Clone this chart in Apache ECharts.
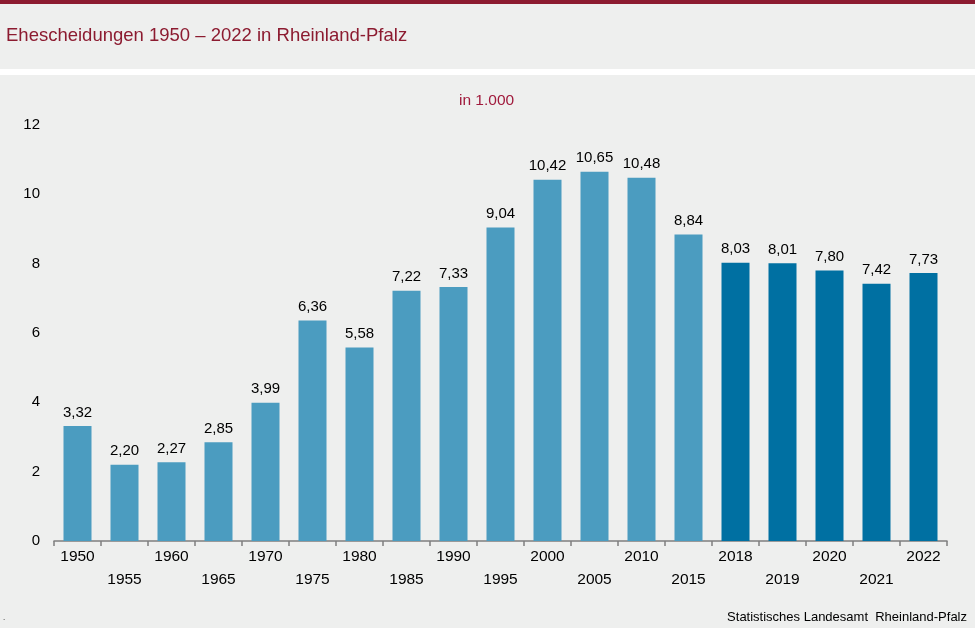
<!DOCTYPE html>
<html>
<head>
<meta charset="utf-8">
<script src="https://cdn.jsdelivr.net/npm/echarts@6/dist/echarts.min.js"></script>
<style>
  html, body { margin: 0; padding: 0; background: #fff; }
  #chart { width: 975px; height: 628px; }
</style>
</head>
<body>
<div id="chart"></div>
<script>
// Ehescheidungen in Rheinland-Pfalz, in 1.000
var years = ['1950', '1955', '1960', '1965', '1970', '1975', '1980', '1985', '1990', '1995',
             '2000', '2005', '2010', '2015', '2018', '2019', '2020', '2021', '2022'];
var values = [3.32, 2.20, 2.27, 2.85, 3.99, 6.36, 5.58, 7.22, 7.33, 9.04,
              10.42, 10.65, 10.48, 8.84, 8.03, 8.01, 7.80, 7.42, 7.73];
var yTicks = [0, 2, 4, 6, 8, 10, 12];

var lightBlue = '#4b9cc0';
var darkBlue = '#0070a2';
var font = '"Liberation Sans", Arial, sans-serif';

var chart = echarts.init(document.getElementById('chart'), null, { renderer: 'canvas' });

var option = {
  animation: false,
  backgroundColor: '#ffffff',
  textStyle: { fontFamily: font },
  graphic: [
    // farbiger Balken oben
    { type: 'rect', shape: { x: 0, y: 0, width: 975, height: 4 }, style: { fill: '#8c1b30' }, z: 0 },
    // Titelfeld
    { type: 'rect', shape: { x: 0, y: 4, width: 975, height: 65 }, style: { fill: '#eeefee' }, z: 0 },
    // Diagrammfeld
    { type: 'rect', shape: { x: 0, y: 75, width: 975, height: 553 }, style: { fill: '#eeefee' }, z: 0 },
    { type: 'text', left: 6, top: 26, style: { text: 'Ehescheidungen 1950 – 2022 in Rheinland-Pfalz', fill: '#8c1b30', font: '18.5px ' + font }, z: 5 },
    { type: 'text', left: 459, top: 93, style: { text: 'in 1.000', fill: '#a01a3c', font: '15.5px ' + font }, z: 5 },
    { type: 'text', right: 8, top: 611, style: { text: 'Statistisches Landesamt  Rheinland-Pfalz', fill: '#000', font: '13px ' + font }, z: 5 },
    { type: 'text', left: 3, top: 614, style: { text: '.', fill: '#000', font: '8px ' + font }, z: 5 }
  ],
  grid: { left: 54, right: 28, top: 125, bottom: 87, containLabel: false },
  xAxis: {
    type: 'category',
    data: years,
    axisLine: { lineStyle: { color: '#7f7f7f', width: 1.5 } },
    axisTick: { show: true, length: 5, lineStyle: { color: '#7f7f7f', width: 1.5 } },
    axisLabel: {
      interval: 0,
      color: '#000',
      fontSize: 15.5,
      fontFamily: font,
      margin: 4,
      lineHeight: 23,
      formatter: function (v, i) { return i % 2 === 1 ? '\n' + v : v; }
    }
  },
  yAxis: {
    type: 'value',
    min: yTicks[0],
    max: yTicks[yTicks.length - 1],
    interval: 2,
    axisLine: { show: false },
    axisTick: { show: false },
    splitLine: { show: false },
    axisLabel: { color: '#000', fontSize: 15, fontFamily: font, margin: 14 }
  },
  series: [{
    type: 'bar',
    barWidth: 28,
    data: values.map(function (v, i) {
      return { value: v, itemStyle: { color: i >= 14 ? darkBlue : lightBlue } };
    }),
    label: {
      show: true,
      position: 'top',
      distance: 6,
      color: '#000',
      fontSize: 15,
      fontFamily: font,
      formatter: function (p) { return p.value.toFixed(2).replace('.', ','); }
    }
  }]
};

chart.setOption(option);
</script>
</body>
</html>
